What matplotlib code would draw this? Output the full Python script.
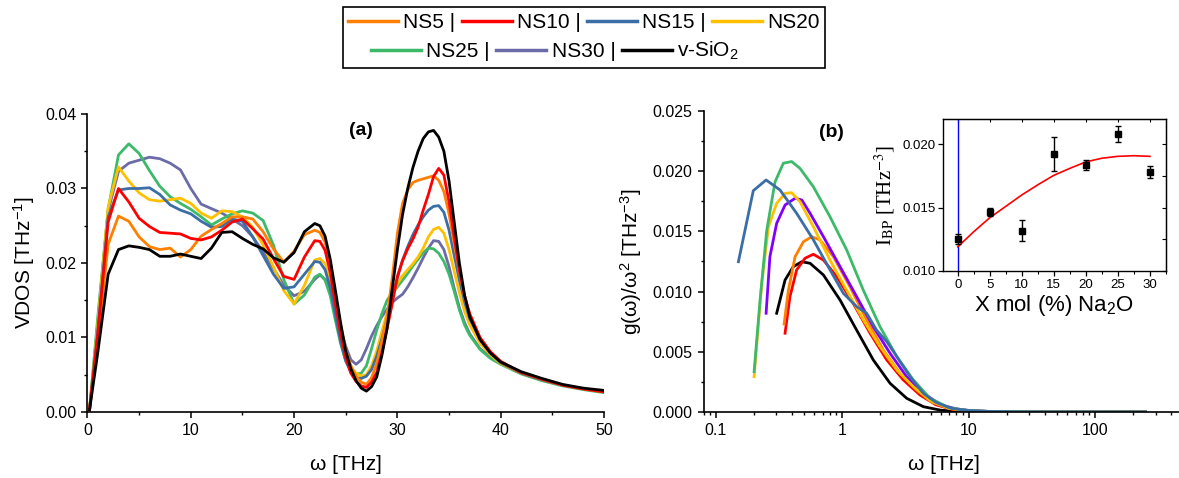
import numpy as np
import matplotlib
matplotlib.use("Agg")
import matplotlib.pyplot as plt
from matplotlib.lines import Line2D
from matplotlib.patches import Rectangle
from matplotlib.ticker import MultipleLocator, FormatStrFormatter, LogLocator, NullFormatter

plt.rcParams['font.family'] = ['Liberation Sans', 'DejaVu Sans']
plt.rcParams['mathtext.fontset'] = 'custom'
plt.rcParams['mathtext.rm'] = 'Liberation Sans'
plt.rcParams['mathtext.it'] = 'Liberation Sans:italic'
plt.rcParams['mathtext.bf'] = 'Liberation Sans:bold'

# ---- panel (a): VDOS vs omega [THz] ----
# 1 THz steps, half steps through the sharp 22-37 THz region
omega = ([0.2] + list(range(1, 22)) + [22, 22.5, 23, 23.5, 24, 24.5, 25, 25.5, 26, 26.5, 27, 27.5,
         28, 28.5, 29, 29.5, 30, 30.5, 31, 31.5, 32, 32.5, 33, 33.5, 34, 34.5, 35, 35.5, 36, 36.5, 37]
         + [38, 39, 40, 42, 44, 46, 48, 50])

vdos_ns5 = [0.0003, 0.0095, 0.0225, 0.0263, 0.0256, 0.0235, 0.0222, 0.0218, 0.0220, 0.0208, 0.0218,
            0.0236, 0.0245, 0.0253, 0.0262, 0.0262, 0.0259, 0.0242, 0.0219, 0.0201, 0.0216, 0.0238,
            0.0244, 0.0241, 0.0228, 0.0200, 0.0158, 0.0116, 0.0083, 0.0062, 0.0048, 0.0040, 0.0037, 0.0046,
            0.0065, 0.0095, 0.0128, 0.0180, 0.0240, 0.0280, 0.0298, 0.0308, 0.0311, 0.0313, 0.0315, 0.0317,
            0.0311, 0.0296, 0.0266, 0.0226, 0.0188, 0.0155, 0.0130,
            0.0098, 0.0080, 0.0067, 0.0053, 0.0044, 0.0036, 0.0031, 0.0027]
vdos_ns10 = [0.0003, 0.0105, 0.0255, 0.0300, 0.0282, 0.0260, 0.0249, 0.0241, 0.0240, 0.0239, 0.0233,
             0.0231, 0.0235, 0.0244, 0.0255, 0.0259, 0.0246, 0.0232, 0.0206, 0.0182, 0.0178, 0.0208,
             0.0230, 0.0229, 0.0217, 0.0187, 0.0145, 0.0105, 0.0073, 0.0052, 0.0041, 0.0035, 0.0033, 0.0040,
             0.0053, 0.0080, 0.0112, 0.0145, 0.0182, 0.0203, 0.0219, 0.0232, 0.0248, 0.0271, 0.0292, 0.0316,
             0.0327, 0.0318, 0.0282, 0.0235, 0.0190, 0.0156, 0.0132,
             0.0100, 0.0081, 0.0068, 0.0053, 0.0044, 0.0036, 0.0031, 0.0027]
vdos_ns15 = [0.0003, 0.0110, 0.0262, 0.0298, 0.0300, 0.0300, 0.0301, 0.0292, 0.0278, 0.0271, 0.0266,
             0.0256, 0.0248, 0.0249, 0.0259, 0.0256, 0.0235, 0.0210, 0.0185, 0.0166, 0.0168, 0.0185,
             0.0202, 0.0201, 0.0191, 0.0167, 0.0130, 0.0095, 0.0069, 0.0053, 0.0046, 0.0045, 0.0048, 0.0057,
             0.0075, 0.0098, 0.0125, 0.0152, 0.0180, 0.0204, 0.0222, 0.0238, 0.0251, 0.0262, 0.0271, 0.0276,
             0.0277, 0.0268, 0.0244, 0.0210, 0.0177, 0.0148, 0.0125,
             0.0098, 0.0080, 0.0066, 0.0052, 0.0043, 0.0036, 0.0031, 0.0027]
vdos_ns20 = [0.0003, 0.0118, 0.0275, 0.0329, 0.0310, 0.0294, 0.0285, 0.0283, 0.0285, 0.0287, 0.0280,
             0.0267, 0.0260, 0.0270, 0.0269, 0.0262, 0.0248, 0.0224, 0.0195, 0.0163, 0.0145, 0.0170,
             0.0204, 0.0206, 0.0199, 0.0178, 0.0138, 0.0102, 0.0075, 0.0060, 0.0052, 0.0048, 0.0050, 0.0062,
             0.0082, 0.0108, 0.0133, 0.0155, 0.0172, 0.0183, 0.0191, 0.0199, 0.0208, 0.0220, 0.0235, 0.0245,
             0.0248, 0.0240, 0.0218, 0.0189, 0.0160, 0.0135, 0.0117,
             0.0092, 0.0077, 0.0065, 0.0052, 0.0043, 0.0036, 0.0031, 0.0027]
vdos_ns25 = [0.0003, 0.0128, 0.0272, 0.0345, 0.0360, 0.0347, 0.0324, 0.0303, 0.0289, 0.0280, 0.0272,
             0.0262, 0.0251, 0.0259, 0.0266, 0.0270, 0.0267, 0.0257, 0.0224, 0.0178, 0.0145, 0.0157,
             0.0181, 0.0185, 0.0177, 0.0156, 0.0123, 0.0092, 0.0068, 0.0056, 0.0051, 0.0052, 0.0062, 0.0085,
             0.0110, 0.0132, 0.0150, 0.0160, 0.0168, 0.0177, 0.0186, 0.0196, 0.0205, 0.0214, 0.0220, 0.0219,
             0.0213, 0.0202, 0.0185, 0.0162, 0.0137, 0.0117, 0.0103,
             0.0084, 0.0072, 0.0064, 0.0051, 0.0042, 0.0035, 0.0030, 0.0026]
vdos_ns30 = [0.0003, 0.0120, 0.0270, 0.0323, 0.0334, 0.0338, 0.0342, 0.0340, 0.0334, 0.0325, 0.0300,
             0.0279, 0.0273, 0.0267, 0.0259, 0.0250, 0.0235, 0.0215, 0.0193, 0.0170, 0.0156, 0.0162,
             0.0178, 0.0184, 0.0178, 0.0160, 0.0137, 0.0112, 0.0088, 0.0070, 0.0064, 0.0070, 0.0085, 0.0102,
             0.0116, 0.0128, 0.0138, 0.0147, 0.0153, 0.0158, 0.0168, 0.0180, 0.0193, 0.0207, 0.0220, 0.0230,
             0.0229, 0.0218, 0.0195, 0.0166, 0.0140, 0.0120, 0.0105,
             0.0085, 0.0074, 0.0066, 0.0052, 0.0043, 0.0036, 0.0031, 0.0027]
vdos_sio2 = [0.0003, 0.0080, 0.0185, 0.0218, 0.0223, 0.0221, 0.0218, 0.0209, 0.0209, 0.0212, 0.0209,
             0.0206, 0.0220, 0.0241, 0.0242, 0.0233, 0.0225, 0.0219, 0.0207, 0.0201, 0.0214, 0.0242,
             0.0253, 0.0250, 0.0236, 0.0205, 0.0163, 0.0120, 0.0082, 0.0058, 0.0042, 0.0032, 0.0028, 0.0034,
             0.0047, 0.0076, 0.0112, 0.0165, 0.0218, 0.0265, 0.0300, 0.0328, 0.0350, 0.0367, 0.0376, 0.0378,
             0.0369, 0.0350, 0.0310, 0.0255, 0.0200, 0.0157, 0.0128,
             0.0097, 0.0079, 0.0067, 0.0054, 0.0045, 0.0037, 0.0032, 0.0029]

# ---- panel (b): g(w)/w^2 vs omega, log x ----
b_w_ns5 = [0.347, 0.375, 0.424, 0.493, 0.574, 0.667, 0.851, 1.15, 1.56, 2.11, 2.86, 3.88, 5.2, 7.0, 10, 15, 30, 250]
b_g_ns5 = [0.00731, 0.0101, 0.0129, 0.01414, 0.01456, 0.01429, 0.0129, 0.0104, 0.00764, 0.00515, 0.00321,
           0.00183, 0.0008, 0.0003, 0.0001, 0.00003, 0.00001, 0.0]
b_w_ns10 = [0.353, 0.386, 0.436, 0.508, 0.591, 0.710, 0.905, 1.22, 1.66, 2.25, 3.04, 4.12, 5.5, 7.5, 10, 15, 30, 250]
b_g_ns10 = [0.00654, 0.00958, 0.0118, 0.01277, 0.0131, 0.01262, 0.01124, 0.00903, 0.00654, 0.00432, 0.00266,
            0.00141, 0.0006, 0.0002, 0.00008, 0.00003, 0.00001, 0.0]
b_w_ns15 = [0.151, 0.198, 0.250, 0.322, 0.436, 0.592, 0.801, 1.02, 1.30, 1.56, 1.87, 2.25, 2.70, 3.44, 4.38,
            5.5, 7.3, 10, 15, 30, 250]
b_g_ns15 = [0.01248, 0.01838, 0.01927, 0.01844, 0.0165, 0.01429, 0.0118, 0.00986, 0.00875, 0.0082, 0.0068,
            0.00584, 0.0046, 0.00293, 0.00155, 0.0008, 0.0003, 0.00012, 0.00004, 0.00001, 0.0]
b_w_ns20 = [0.201, 0.231, 0.261, 0.303, 0.353, 0.398, 0.463, 0.591, 0.80, 1.085, 1.47, 1.99, 2.70, 3.65, 5.0,
            7.0, 10, 15, 30, 250]
b_g_ns20 = [0.00293, 0.0107, 0.01539, 0.01733, 0.01816, 0.01821, 0.01747, 0.01539, 0.01262, 0.0101, 0.00764,
            0.00542, 0.00349, 0.0021, 0.0009, 0.0003, 0.0001, 0.00004, 0.00001, 0.0]
b_w_ns25 = [0.201, 0.224, 0.253, 0.294, 0.342, 0.398, 0.463, 0.591, 0.80, 1.085, 1.47, 1.99, 2.70, 3.65, 4.94,
            7.0, 10, 15, 30, 250]
b_g_ns25 = [0.00335, 0.0093, 0.0151, 0.0191, 0.02066, 0.0208, 0.02024, 0.01871, 0.01622, 0.01345, 0.0101,
            0.00708, 0.0046, 0.00266, 0.00114, 0.00035, 0.00012, 0.00004, 0.00001, 0.0]
b_w_ns30 = [0.250, 0.268, 0.303, 0.353, 0.424, 0.479, 0.557, 0.710, 0.961, 1.30, 1.76, 2.39, 3.23, 4.38, 6.0,
            8.0, 10, 15, 30, 250]
b_g_ns30 = [0.0082, 0.0129, 0.01567, 0.01719, 0.01775, 0.01761, 0.0165, 0.01456, 0.01207, 0.00958, 0.00708,
            0.00487, 0.00293, 0.00155, 0.0006, 0.00025, 0.00013, 0.00004, 0.00001, 0.0]
b_w_sio2 = [0.303, 0.353, 0.410, 0.479, 0.557, 0.710, 0.961, 1.30, 1.76, 2.39, 3.23, 4.38, 6.0, 8.0, 10, 15, 30, 250]
b_g_sio2 = [0.0082, 0.01096, 0.01207, 0.01248, 0.01235, 0.01138, 0.0093, 0.0068, 0.00432, 0.00238, 0.00114,
            0.00044, 0.00015, 0.00005, 0.00002, 0.00001, 0.0, 0.0]

# ---- inset: boson peak intensity vs Na2O content ----
x_mol = [0, 5, 10, 15, 20, 25, 30]
i_bp = [0.01252, 0.01467, 0.01318, 0.01927, 0.01835, 0.02081, 0.01782]
i_bp_err = [0.0004, 0.00034, 0.00083, 0.00134, 0.0004, 0.0006, 0.0005]
fit_x = [0, 2.5, 5, 7.5, 10, 12.5, 15, 17.5, 20, 22.5, 25, 27.5, 30]
fit_y = [0.0119, 0.0131, 0.0142, 0.0151, 0.0160, 0.0168, 0.01755, 0.0181, 0.01861, 0.0189, 0.01905, 0.0191, 0.01905]

c_ns5 = '#ff8000'
c_ns10 = '#ff0000'
c_ns15 = '#3a6ea5'
c_ns20 = '#ffc000'
c_ns25 = '#3cba6a'
c_ns30 = '#6b6ba8'
c_ns30_b = '#8000ff'
c_sio2 = '#000000'
LW = 2.0

fig = plt.figure(figsize=(11.79, 4.78), dpi=100)


def style_axis(ax):
    ax.spines['top'].set_visible(False)
    ax.spines['right'].set_visible(False)
    for s in ('left', 'bottom'):
        ax.spines[s].set_linewidth(1.2)
    ax.tick_params(which='major', direction='out', length=4.5, width=1.1, labelsize=11.5)
    ax.tick_params(which='minor', direction='out', length=2.5, width=1.0)


# panel (a)
ax1 = fig.add_axes([0.0742, 0.1381, 0.4381, 0.6234])
ax1.plot(omega, vdos_ns30, color=c_ns30, lw=LW)
ax1.plot(omega, vdos_ns25, color=c_ns25, lw=LW)
ax1.plot(omega, vdos_ns20, color=c_ns20, lw=LW)
ax1.plot(omega, vdos_ns15, color=c_ns15, lw=LW)
ax1.plot(omega, vdos_ns5, color=c_ns5, lw=LW)
ax1.plot(omega, vdos_ns10, color=c_ns10, lw=LW)
ax1.plot(omega, vdos_sio2, color=c_sio2, lw=LW)
ax1.set_xlim(0, 50)
ax1.set_ylim(0, 0.04)
ax1.xaxis.set_major_locator(MultipleLocator(10))
ax1.xaxis.set_minor_locator(MultipleLocator(5))
ax1.yaxis.set_major_locator(MultipleLocator(0.01))
ax1.yaxis.set_minor_locator(MultipleLocator(0.005))
ax1.yaxis.set_major_formatter(FormatStrFormatter('%.2f'))
style_axis(ax1)
ax1.set_xlabel('ω [THz]', fontsize=15, labelpad=12)
ax1.set_ylabel('VDOS [THz$^{-1}$]', fontsize=15, labelpad=6)
ax1.text(26.5, 0.0378, '(a)', fontsize=14, fontweight='bold', ha='center', va='center')

# panel (b)
ax2 = fig.add_axes([0.5967, 0.1381, 0.4072, 0.6297])
ax2.plot(b_w_sio2, b_g_sio2, color=c_sio2, lw=LW)
ax2.plot(b_w_ns10, b_g_ns10, color=c_ns10, lw=LW)
ax2.plot(b_w_ns5, b_g_ns5, color=c_ns5, lw=LW)
ax2.plot(b_w_ns30, b_g_ns30, color=c_ns30_b, lw=LW)
ax2.plot(b_w_ns20, b_g_ns20, color=c_ns20, lw=LW)
ax2.plot(b_w_ns25, b_g_ns25, color=c_ns25, lw=LW)
ax2.plot(b_w_ns15, b_g_ns15, color=c_ns15, lw=LW)
ax2.set_xscale('log')
ax2.set_xlim(0.08, 500)
ax2.set_ylim(0, 0.025)
ax2.xaxis.set_major_locator(LogLocator(base=10, numticks=10))
ax2.xaxis.set_minor_locator(LogLocator(base=10, subs=range(2, 10), numticks=20))
ax2.xaxis.set_major_formatter(FormatStrFormatter('%g'))
ax2.xaxis.set_minor_formatter(NullFormatter())
ax2.yaxis.set_major_locator(MultipleLocator(0.005))
ax2.yaxis.set_minor_locator(MultipleLocator(0.0025))
ax2.yaxis.set_major_formatter(FormatStrFormatter('%.3f'))
style_axis(ax2)
ax2.set_xlabel('ω [THz]', fontsize=15, labelpad=12)
ax2.set_ylabel('g(ω)/ω$^2$ [THz$^{-3}$]', fontsize=15, labelpad=6)
ax2.text(0.82, 0.0232, '(b)', fontsize=14, fontweight='bold', ha='center', va='center')

# inset
ax3 = fig.add_axes([0.7998, 0.4331, 0.1891, 0.318])
ax3.axvline(0, color='#0000ff', lw=1.0)
ax3.plot(fit_x, fit_y, color='#ff0000', lw=1.2)
ax3.errorbar(x_mol, i_bp, yerr=i_bp_err, fmt='s', color='black', ms=4, capsize=2, elinewidth=1, capthick=1)
ax3.set_xlim(-2.3, 32.5)
ax3.set_ylim(0.010, 0.022)
ax3.xaxis.set_major_locator(MultipleLocator(5))
ax3.xaxis.set_minor_locator(MultipleLocator(2.5))
ax3.yaxis.set_major_locator(MultipleLocator(0.005))
ax3.yaxis.set_major_formatter(FormatStrFormatter('%.3f'))
for s in ax3.spines.values():
    s.set_linewidth(1.0)
ax3.tick_params(which='major', direction='out', length=3.5, width=0.9, labelsize=9.5, pad=2)
ax3.tick_params(which='minor', direction='out', length=2, width=0.8)
ax3.set_xlabel('X mol (%) Na$_2$O', fontsize=16, labelpad=2)
ax3.set_ylabel('I$_\\mathrm{BP}$ [THz$^{-3}$]', fontsize=15, family='Liberation Serif',
               math_fontfamily='stix', labelpad=4)
# inward ticks on the right and top edges of the inset frame
sec_r = ax3.secondary_yaxis('right')
sec_r.yaxis.set_major_locator(MultipleLocator(0.0025))
sec_r.yaxis.set_major_formatter(NullFormatter())
sec_r.tick_params(direction='in', length=3, width=0.8)
sec_t = ax3.secondary_xaxis('top')
sec_t.xaxis.set_major_locator(MultipleLocator(5))
sec_t.xaxis.set_major_formatter(NullFormatter())
sec_t.tick_params(direction='in', length=2.5, width=0.8)

# legend in two centred rows with a shared frame
row1 = [Line2D([], [], color=c_ns5, lw=2.5), Line2D([], [], color=c_ns10, lw=2.5),
        Line2D([], [], color=c_ns15, lw=2.5), Line2D([], [], color=c_ns20, lw=2.5)]
row2 = [Line2D([], [], color=c_ns25, lw=2.5), Line2D([], [], color=c_ns30, lw=2.5),
        Line2D([], [], color=c_sio2, lw=2.5)]
leg_kw = dict(loc='center', frameon=False, fontsize=15, handlelength=2.4, handletextpad=0.25,
              columnspacing=0.3, borderpad=0, borderaxespad=0)
fig.legend(row1, ['NS5 |', 'NS10 |', 'NS15 |', 'NS20'], ncol=4, bbox_to_anchor=(0.4953, 0.953), **leg_kw)
fig.legend(row2, ['NS25 |', 'NS30 |', 'v-SiO$_2$'], ncol=3, bbox_to_anchor=(0.4707, 0.893), **leg_kw)
fig.add_artist(Rectangle((0.2909, 0.8577), 0.4088, 0.1276, transform=fig.transFigure,
                         fill=False, ec='black', lw=1.2))

fig.savefig('out.png', dpi=100)
